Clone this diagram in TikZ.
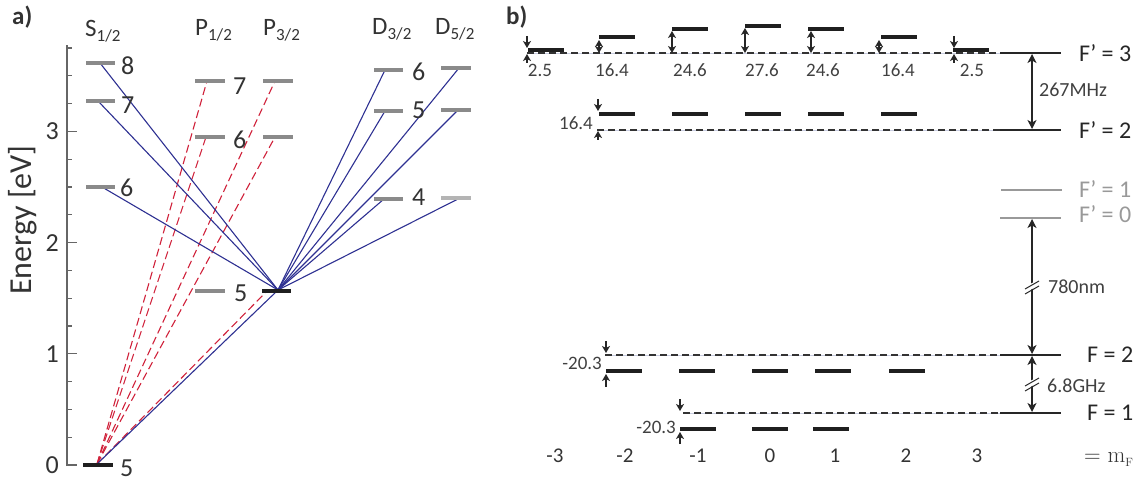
\documentclass[tikz,border=0pt]{standalone}
\usepackage{fontspec}
\setmainfont{Carlito}
\newfontfamily\lmr{Latin Modern Roman}
\usetikzlibrary{arrows.meta}
\definecolor{lvlgray}{HTML}{8A8A8A}
\definecolor{lvllight}{HTML}{B4B4B4}
\definecolor{tblue}{HTML}{2E3192}
\definecolor{tred}{HTML}{D0213A}
\definecolor{txt}{HTML}{333333}
\definecolor{txtb}{HTML}{404040}
\definecolor{fgray}{HTML}{999999}
\definecolor{hair}{HTML}{C8CCE0}
\newcommand{\fsz}[1]{\fontsize{#1}{#1}\selectfont}
\begin{document}
\begin{tikzpicture}[x=1pt,y=-1pt,
  bar/.style={rectangle,inner sep=0pt,minimum width=30pt,minimum height=4pt,fill=lvlgray},
  barlight/.style={bar,fill=lvllight},
  bark/.style={bar,fill=black!88},
  mbar/.style={rectangle,inner sep=0pt,minimum width=36pt,minimum height=4pt,fill=black!88,anchor=west},
  bl/.style={tblue,line width=1.1pt},
  rd/.style={tred,line width=1.1pt,dash pattern=on 8pt off 4pt},
  axisc/.style={black!60,line width=1.2pt},
  lab/.style={font=\fsz{26},text=txt,inner sep=0pt},
  hdr/.style={font=\fsz{25},text=txt,inner sep=0pt,anchor=base west},
  num/.style={font=\fsz{19},text=txtb,inner sep=0pt},
  flab/.style={font=\fsz{24},text=black!85,inner sep=0pt,anchor=west},
  dsh/.style={black!80,line width=1.1pt,dash pattern=on 7pt off 4pt},
  hairl/.style={hair,line width=0.6pt},
  fline/.style={black!85,line width=1.3pt},
  stip/.tip={Stealth[length=7pt,width=8pt,inset=2pt]},
  btip/.tip={Stealth[length=9pt,width=9pt,inset=2.5pt]},
  sarr/.style={black!85,line width=1.1pt,stip-stip},
  darr/.style={black!85,line width=1.1pt,-stip},
  barr/.style={black!85,line width=1.2pt,btip-btip}
]
\useasboundingbox (0,0) rectangle (1142,481);

% ================= panel a =================
\node[font=\bfseries\fsz{25},text=txt,anchor=west,inner sep=0pt] (la) at (12,17) {a)};
\draw[axisc] (67,466) -- (67,45);
\foreach \k in {1,2,3,5,6,7,9,10,11,13,14,15}
  \draw[axisc] (67,{465-27.8*\k}) -- ++(5,0);
\foreach \k/\t in {0/0,1/1,2/2,3/3}{
  \draw[axisc] (67,{465-111.2*\k}) -- ++(10,0);
  \node[lab,anchor=east] (ax\t) at (59,{465-111.2*\k}) {\t};
}
\node[rotate=90,font=\fsz{32},text=txt,inner sep=0pt] (ylab) at (23,220) {Energy [eV]};

\node[hdr] (hS) at (85,37) {S\raisebox{-5pt}{\fsz{17}1/2}};
\node[hdr] (hP1) at (195,36) {P\raisebox{-5pt}{\fsz{17}1/2}};
\node[hdr] (hP3) at (263,36) {P\raisebox{-5pt}{\fsz{17}3/2}};
\node[hdr] (hD3) at (372,35) {D\raisebox{-5pt}{\fsz{17}3/2}};
\node[hdr] (hD5) at (435,35) {D\raisebox{-5pt}{\fsz{17}5/2}};

% transitions (drawn below the bars)
\coordinate (o5s) at (97,464);
\coordinate (o5p) at (278,290);
\coordinate (e8s) at (100,63);
\coordinate (e7s) at (98,101);
\coordinate (e6s) at (102,187);
\coordinate (ed36) at (385,70);
\coordinate (ed35) at (385,111);
\coordinate (ed34) at (384,199);
\coordinate (ed56) at (459,68);
\coordinate (ed55) at (458,110);
\coordinate (ed54) at (458,199);
\coordinate (ep17) at (207,81);
\coordinate (ep16) at (206,137);
\coordinate (ep37) at (275,81);
\coordinate (ep36) at (275,137);
\coordinate (ep35) at (267,291);
\foreach \e in {ep17,ep16,ep37,ep36,ep35} \draw[rd] (o5s) -- (\e);
\draw[bl] (o5s) -- (o5p);
\foreach \e in {e8s,e7s,e6s,ed36,ed35,ed34,ed56,ed55,ed54} \draw[bl] (o5p) -- (\e);

% levels
\node[bark,minimum width=30pt] (s5) at (98,465) {};
\node[bar,minimum width=29pt] (s6) at (100.5,187) {};
\node[bar,minimum width=29pt] (s7) at (100.5,101) {};
\node[bar,minimum width=29pt] (s8) at (100.5,63) {};
\node[bar] (p15) at (210,291) {};
\node[bar] (p16) at (210,137) {};
\node[bar] (p17) at (210,81) {};
\node[bark,minimum width=29pt] (p35) at (276.5,291) {};
\node[bar] (p36) at (278,137) {};
\node[bar] (p37) at (278,81) {};
\node[bar,minimum width=29pt] (d36) at (388.5,70) {};
\node[bar,minimum width=29pt] (d35) at (388.5,111) {};
\node[bar,minimum width=29pt] (d34) at (388.5,199) {};
\node[bar] (d56) at (456,68) {};
\node[bar] (d55) at (456,110) {};
\node[barlight] (d54) at (456,198) {};

\node[lab,anchor=west] (ls8) at (121,66) {8};
\node[lab,anchor=west] (ls7) at (121,105) {7};
\node[lab,anchor=west] (ls6) at (120,188) {6};
\node[lab,anchor=west] (ls5) at (120,468) {5};
\node[lab,anchor=west] (lp7) at (233,86) {7};
\node[lab,anchor=west] (lp6) at (233,140) {6};
\node[lab,anchor=west] (lp5) at (234,293) {5};
\node[lab,anchor=west] (ld6) at (412,72) {6};
\node[lab,anchor=west] (ld5) at (412,110) {5};
\node[lab,anchor=west] (ld4) at (412,197) {4};

% ================= panel b =================
\node[font=\bfseries\fsz{25},text=txt,anchor=west,inner sep=0pt] (lb) at (506,17) {b)};

% reference lines
\coordinate (a3) at (527,53);  \coordinate (a2) at (597,130);
\coordinate (g2) at (605,355); \coordinate (g1) at (683,413);
\coordinate (m3) at (1000,53); \coordinate (m2) at (1000,130);
\coordinate (n2) at (1000,355); \coordinate (n1) at (1000,413);
\coordinate (r3) at (1061,53); \coordinate (r2) at (1061,130);
\coordinate (q2) at (1061,355); \coordinate (q1) at (1061,413);
\foreach \u/\v in {a3/m3,a2/m2,g2/n2,g1/n1}{
  \draw[hairl] (\u) -- (\v);
  \draw[dsh] (\u) -- (\v);
}
\draw[fline] (m3) -- (r3);
\draw[fline] (m2) -- (r2);
\draw[fline] (n2) -- (q2);
\draw[fline] (n1) -- (q1);
\coordinate (k1a) at (1001,190); \coordinate (k1b) at (1062,190);
\coordinate (k0a) at (1000,218); \coordinate (k0b) at (1061,218);
\draw[fgray,line width=1.3pt] (k1a) -- (k1b);
\draw[fgray,line width=1.3pt] (k0a) -- (k0b);

\node[flab] (tF3) at (1079,53) {F’ = 3};
\node[flab] (tF2) at (1079,130) {F’ = 2};
\node[flab,text=fgray] (tF1) at (1079,189) {F’ = 1};
\node[flab,text=fgray] (tF0) at (1079,214) {F’ = 0};
\node[flab] (tG2) at (1087,355) {F = 2};
\node[flab] (tG1) at (1087,413) {F = 1};
\node[font=\lmr\fsz{23},text=black!80,inner sep=0pt,anchor=base west] (tmf) at (1084,462) {= m\raisebox{-4pt}{\fsz{12}F}};

% F'=3 sublevels
\node[mbar] (u3m3) at (528,50) {};
\node[mbar] (u3m2) at (599,37) {};
\node[mbar] (u3m1) at (672,29) {};
\node[mbar] (u30)  at (745,26) {};
\node[mbar] (u3p1) at (808,29) {};
\node[mbar] (u3p2) at (881,37) {};
\node[mbar] (u3p3) at (953,50) {};
% F'=2 sublevels
\node[mbar] (u2m2) at (599,114) {};
\node[mbar] (u2m1) at (672,114) {};
\node[mbar] (u20)  at (745,114) {};
\node[mbar] (u2p1) at (808,114) {};
\node[mbar] (u2p2) at (881,114) {};
% F=2 sublevels
\node[mbar] (g2m2) at (606,371) {};
\node[mbar] (g2m1) at (679,371) {};
\node[mbar] (g20)  at (752,371) {};
\node[mbar] (g2p1) at (815,371) {};
\node[mbar] (g2p2) at (889,371) {};
% F=1 sublevels
\node[mbar] (g1m1) at (680,429) {};
\node[mbar] (g10)  at (752,429) {};
\node[mbar] (g1p1) at (813,429) {};

% small shift arrows F'=3
\coordinate (x1t) at (527,36); \coordinate (x1b) at (527,48);
\coordinate (x1u) at (527,63); \coordinate (x1d) at (527,54);
\draw[darr] (x1t) -- (x1b);
\draw[darr] (x1u) -- (x1d);
\coordinate (x7t) at (954,36); \coordinate (x7b) at (954,48);
\coordinate (x7u) at (954,63); \coordinate (x7d) at (954,54);
\draw[darr] (x7t) -- (x7b);
\draw[darr] (x7u) -- (x7d);
\coordinate (x2t) at (599,40); \coordinate (x2b) at (599,53);
\draw[sarr] (x2t) -- (x2b);
\coordinate (x3t) at (672,31); \coordinate (x3b) at (672,53);
\draw[sarr] (x3t) -- (x3b);
\coordinate (x4t) at (745,28); \coordinate (x4b) at (745,53);
\draw[sarr] (x4t) -- (x4b);
\coordinate (x5t) at (811,31); \coordinate (x5b) at (811,53);
\draw[sarr] (x5t) -- (x5b);
\coordinate (x6t) at (879,40); \coordinate (x6b) at (879,53);
\draw[sarr] (x6t) -- (x6b);

\node[num] (n1) at (540,70) {2.5};
\node[num] (n2) at (612,70) {16.4};
\node[num] (n3) at (690,70) {24.6};
\node[num] (n4) at (762,70) {27.6};
\node[num] (n5) at (823,70) {24.6};
\node[num] (n6) at (898,70) {16.4};
\node[num] (n7) at (972,70) {2.5};

% F'=2 shift arrows
\coordinate (y1t) at (598,99); \coordinate (y1b) at (598,111);
\coordinate (y1u) at (598,140); \coordinate (y1d) at (598,131);
\draw[darr] (y1t) -- (y1b);
\draw[darr] (y1u) -- (y1d);
\node[num,anchor=east] (ny) at (593,123) {16.4};

% F=2 shift arrows
\coordinate (z1t) at (606,341); \coordinate (z1b) at (606,353);
\coordinate (z1u) at (606,387); \coordinate (z1d) at (606,374);
\draw[darr] (z1t) -- (z1b);
\draw[darr] (z1u) -- (z1d);
\node[num,anchor=east] (nz) at (602,363) {-20.3};

% F=1 shift arrows
\coordinate (w1t) at (680,399); \coordinate (w1b) at (680,411);
\coordinate (w1u) at (680,444); \coordinate (w1d) at (680,432);
\draw[darr] (w1t) -- (w1b);
\draw[darr] (w1u) -- (w1d);
\node[num,anchor=east] (nw) at (676,427) {-20.3};

% big arrows
\coordinate (b3) at (1032,54); \coordinate (b2) at (1032,129);
\draw[barr] (b3) -- (b2);
\node[font=\fsz{20},text=txtb,inner sep=0pt,anchor=west] (t267) at (1039,90) {267MHz};
\coordinate (c0) at (1032,219); \coordinate (c2) at (1032,354);
\draw[barr] (c0) -- (c2);
\fill[white] (1024,287) -- (1040,279) -- (1040,285) -- (1024,293) -- cycle;
\draw[black!85,line width=1pt] (1025,289) -- (1039,281);
\draw[black!85,line width=1pt] (1025,294) -- (1039,286);
\node[font=\fsz{20},text=txtb,inner sep=0pt,anchor=west] (t780) at (1048,287) {780nm};
\coordinate (d2) at (1032,356); \coordinate (d1) at (1032,412);
\draw[barr] (d2) -- (d1);
\fill[white] (1024,384) -- (1040,376) -- (1040,382) -- (1024,390) -- cycle;
\draw[black!85,line width=1pt] (1025,386) -- (1039,378);
\draw[black!85,line width=1pt] (1025,391) -- (1039,383);
\node[font=\fsz{20},text=txtb,inner sep=0pt,anchor=west] (t68) at (1047,386) {6.8GHz};

% m_F labels
\foreach \xx/\t in {555/-3,625/-2,698/-1,770/0,835/1,906/2,977/3}
  \node[font=\fsz{21},text=txt,inner sep=0pt] (mf\t) at (\xx,456) {\t};
\end{tikzpicture}
\end{document}
